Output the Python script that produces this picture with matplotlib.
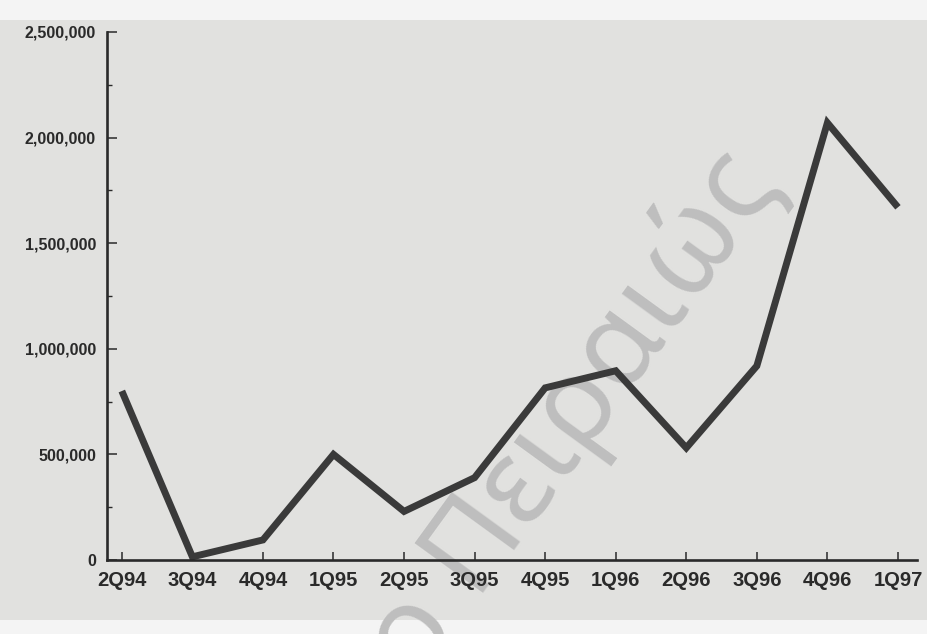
"""Quarterly volume, 2Q94 - 1Q97: scanned line chart with watermark."""

import matplotlib

matplotlib.use("Agg")
import matplotlib.pyplot as plt
from matplotlib.patches import Rectangle
from matplotlib.ticker import FuncFormatter, MultipleLocator

QUARTERS = ["2Q94", "3Q94", "4Q94", "1Q95", "2Q95", "3Q95",
            "4Q95", "1Q96", "2Q96", "3Q96", "4Q96", "1Q97"]
VALUES = [800000, 15000, 95000, 500000, 230000, 390000,
          815000, 896000, 531000, 919000, 2070000, 1670000]
Y_MAX = 2500000
WATERMARK = "Πανεπιστήμιο Πειραιώς"

INK = "#2a2a2a"
PAPER = "#e1e1df"


def main():
    fig = plt.figure(figsize=(9.27, 6.34), dpi=100, facecolor="#f4f4f4")
    # scanned page area (slightly grey) between the light top/bottom margins
    fig.patches.append(Rectangle((0, 14 / 634), 1, 600 / 634, transform=fig.transFigure,
                                 facecolor=PAPER, edgecolor="none", zorder=-3))
    fig.text(0.842, 0.710, WATERMARK, family=["Noto Sans", "DejaVu Sans"], fontsize=85,
             color="#bebebe", rotation=54, rotation_mode="anchor",
             ha="right", va="baseline", zorder=-2)

    ax = fig.add_axes([107 / 927, 74 / 634, 810 / 927, 528 / 634])
    ax.patch.set_visible(False)
    x = list(range(len(QUARTERS)))
    ax.plot(x, VALUES, color="#3a3a3a", lw=5, solid_joinstyle="miter", solid_capstyle="butt")

    ax.set_xlim(-0.21, len(QUARTERS) - 1 + 0.27)
    ax.set_ylim(0, Y_MAX)
    for side in ("top", "right"):
        ax.spines[side].set_visible(False)
    for side in ("left", "bottom"):
        ax.spines[side].set_linewidth(1.9)
        ax.spines[side].set_color(INK)

    ax.set_xticks(x)
    ax.set_xticklabels(QUARTERS)
    ax.yaxis.set_major_locator(MultipleLocator(500000))
    ax.yaxis.set_minor_locator(MultipleLocator(250000))
    ax.yaxis.set_major_formatter(FuncFormatter(lambda v, _: f"{int(v):,}"))

    ax.tick_params(axis="x", direction="in", length=6, width=1.1, color=INK, pad=8,
                   labelsize=14.5, labelcolor=INK)
    ax.tick_params(axis="y", which="major", direction="in", length=7, width=1.1, color=INK,
                   pad=8, labelsize=11.5, labelcolor=INK)
    ax.tick_params(axis="y", which="minor", direction="in", length=3.5, width=1.0, color=INK)
    for lab in ax.get_xticklabels() + ax.get_yticklabels():
        lab.set_family(["Liberation Sans", "DejaVu Sans"])
        lab.set_fontweight("bold")

    fig.savefig("out.png", dpi=100, facecolor=fig.get_facecolor())


if __name__ == "__main__":
    main()
